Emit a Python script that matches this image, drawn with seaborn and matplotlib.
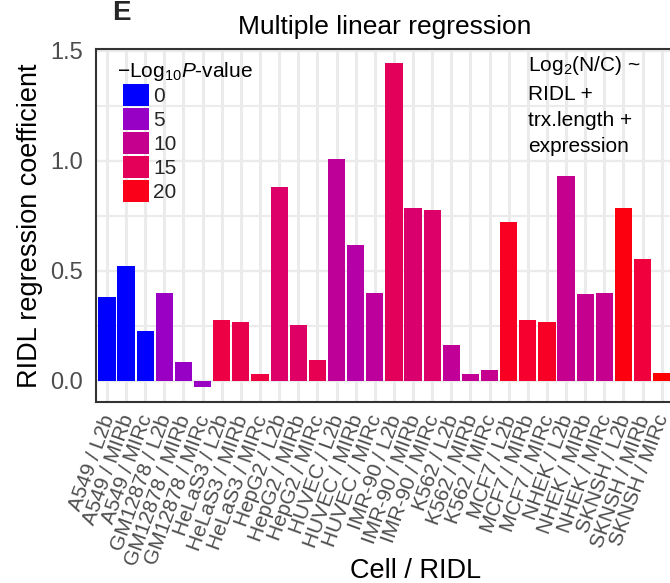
import numpy as np
import pandas as pd
import matplotlib
matplotlib.use("Agg")
import matplotlib.pyplot as plt
import seaborn as sns
from matplotlib.patches import Patch

# ---------------- data ----------------
cells = ["A549", "GM12878", "HeLaS3", "HepG2", "HUVEC", "IMR-90",
         "K562", "MCF7", "NHEK", "SKNSH"]
ridls = ["L2b", "MIRb", "MIRc"]
labels = [f"{c} / {r}" for c in cells for r in ridls]
coef = [0.381, 0.523, 0.227,
        0.400, 0.085, -0.027,
        0.277, 0.268, 0.030,
        0.878, 0.254, 0.094,
        1.005, 0.618, 0.400,
        1.443, 0.786, 0.777,
        0.162, 0.030, 0.049,
        0.719, 0.277, 0.268,
        0.928, 0.395, 0.400,
        0.786, 0.555, 0.035]
neglogp = [0.0, 0.0, 0.0,
           5.2, 5.0, 5.2,
           16.8, 16.0, 17.0,
           13.5, 13.8, 15.5,
           9.0, 7.8, 8.8,
           14.8, 13.0, 13.5,
           9.2, 9.4, 10.0,
           19.5, 18.5, 19.2,
           10.0, 9.9, 9.9,
           20.5, 17.5, 21.0]
legend_breaks = [0, 5, 10, 15, 20]
ann_lines = ["Log$_2$(N/C) ~", "RIDL +", "trx.length +", "expression"]

# ------------- colour scale (Lab interpolation, blue -> red) -------------
def _srgb_to_lab(rgb):
    rgb = np.asarray(rgb, float)
    lin = np.where(rgb <= 0.04045, rgb / 12.92, ((rgb + 0.055) / 1.055) ** 2.4)
    M = np.array([[0.4124564, 0.3575761, 0.1804375],
                  [0.2126729, 0.7151522, 0.0721750],
                  [0.0193339, 0.1191920, 0.9503041]])
    xyz = M @ lin
    wp = np.array([0.95047, 1.0, 1.08883])
    t = xyz / wp
    f = np.where(t > (6 / 29) ** 3, np.cbrt(t), t / (3 * (6 / 29) ** 2) + 4 / 29)
    return np.array([116 * f[1] - 16, 500 * (f[0] - f[1]), 200 * (f[1] - f[2])])

def _lab_to_srgb(lab):
    L, a, b = lab
    fy = (L + 16) / 116
    fx = fy + a / 500
    fz = fy - b / 200
    d = 6 / 29
    f = np.array([fx, fy, fz])
    t = np.where(f > d, f ** 3, 3 * d ** 2 * (f - 4 / 29))
    xyz = t * np.array([0.95047, 1.0, 1.08883])
    Minv = np.array([[3.2404542, -1.5371385, -0.4985314],
                     [-0.9692660, 1.8760108, 0.0415560],
                     [0.0556434, -0.2040259, 1.0572252]])
    lin = np.clip(Minv @ xyz, 0, 1)
    rgb = np.where(lin <= 0.0031308, 12.92 * lin, 1.055 * lin ** (1 / 2.4) - 0.055)
    return tuple(np.clip(rgb, 0, 1))

LAB_LO = _srgb_to_lab([0, 0, 1])
LAB_HI = _srgb_to_lab([1, 0, 0])
vmin, vmax = min(neglogp), max(neglogp)

def fill_col(v):
    t = (v - vmin) / (vmax - vmin)
    t = min(max(t, 0), 1)
    return _lab_to_srgb(LAB_LO + t * (LAB_HI - LAB_LO))

df = pd.DataFrame({"label": labels, "coef": coef, "p": neglogp})
palette = {lab: fill_col(p) for lab, p in zip(labels, neglogp)}

# ---------------- figure ----------------
sns.set_theme(style="white")
plt.rcParams["font.family"] = ["Liberation Sans", "DejaVu Sans"]
plt.rcParams["mathtext.fontset"] = "custom"
plt.rcParams["mathtext.rm"] = "Liberation Sans"
plt.rcParams["mathtext.it"] = "Liberation Sans:italic"
plt.rcParams["mathtext.default"] = "regular"

W, H = 670, 583
fig = plt.figure(figsize=(W / 100, H / 100), dpi=100)
left, right, top, bottom = 95.5, 673.2, 49.3, 401.7
ax = fig.add_axes([left / W, 1 - bottom / H, (right - left) / W, (bottom - top) / H])

sns.barplot(data=df, x="label", y="coef", hue="label", palette=palette,
            legend=False, width=0.9, saturation=1, ax=ax, zorder=3,
            edgecolor="none", linewidth=0)

ax.set_xlim(-0.6, len(labels) - 0.4)
ax.set_ylim(-0.0955, 1.5057)
ax.set_yticks([0.0, 0.5, 1.0, 1.5])
ax.set_yticklabels(["0.0", "0.5", "1.0", "1.5"])
ax.set_yticks([0.25, 0.75, 1.25], minor=True)

grid_c = "#EBEBEB"
ax.grid(True, which="major", axis="x", color=grid_c, linewidth=2.2, zorder=0)
ax.grid(True, which="major", axis="y", color=grid_c, linewidth=1.7, zorder=0)
ax.grid(True, which="minor", axis="y", color=grid_c, linewidth=1.5, zorder=0)
ax.set_axisbelow(True)

for s in ax.spines.values():
    s.set_color("#333333")
    s.set_linewidth(1.5)

ax.tick_params(axis="both", which="major", length=4.5, width=1.5, color="#333333",
               labelcolor="#4D4D4D")
ax.tick_params(axis="y", which="major", labelsize=17, pad=4.5)
ax.tick_params(axis="y", which="minor", length=0)
ax.tick_params(axis="x", labelsize=15, pad=5)
ax.set_xticks(range(len(labels)))
ax.set_xticklabels(labels, rotation=70, ha="right", va="center_baseline",
                   rotation_mode="anchor")

ax.set_xlabel("")
ax.set_ylabel("RIDL regression coefficient", fontsize=19.5, color="black")
ax.yaxis.set_label_coords((43 - left) / (right - left), 0.5)
ax.set_title("Multiple linear regression", fontsize=19, color="black", pad=11)

fig.text(416 / W, 1 - 578 / H, "Cell / RIDL", fontsize=19.5, color="black",
         ha="center", va="baseline")

# legend
handles = [Patch(facecolor=fill_col(b), edgecolor="none") for b in legend_breaks]
leg = ax.legend(handles, [str(b) for b in legend_breaks],
                loc="upper left", bbox_to_anchor=(123 / W, 1 - 84 / H),
                bbox_transform=fig.transFigure, frameon=False,
                fontsize=15, handlelength=1.25,
                handleheight=1.25, labelspacing=0.1, handletextpad=0.2,
                borderpad=0, borderaxespad=0)
fig.text(117 / W, 1 - 77 / H, r"$-$Log$_{10}$$\mathit{P}$-value", fontsize=15,
         ha="left", va="baseline", color="black")

# annotation
ax.text(528 / W, 1 - 54 / H, "\n".join(ann_lines), transform=fig.transFigure,
        ha="left", va="top", fontsize=15, linespacing=1.5, color="black")

# panel letter
fig.text(112 / W, 1 - 20.5 / H, "E", fontsize=20, fontweight="bold",
         ha="left", va="baseline")

fig.savefig("out.png", dpi=100)
